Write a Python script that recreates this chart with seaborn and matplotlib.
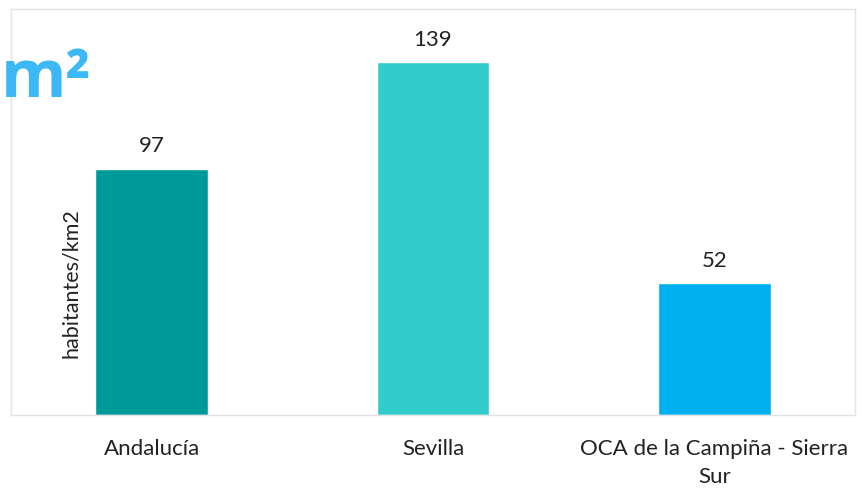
import matplotlib
matplotlib.use("Agg")
import matplotlib.pyplot as plt
import seaborn as sns
import pandas as pd

categories = ["Andalucía", "Sevilla", "OCA de la Campiña - Sierra\nSur"]
values = [97, 139, 52]
colors = ["#009999", "#33CCCC", "#00B0F0"]
ylabel = "habitantes/km2"
title_fragment = "m²"

sns.set_theme(style="white")
plt.rcParams["font.family"] = ["Lato", "DejaVu Sans"]

df = pd.DataFrame({"cat": categories, "val": values})

fig = plt.figure(figsize=(8.64, 4.90), dpi=100)
W, H = 864, 490
ax = fig.add_axes([11 / W, 1 - 415 / H, (855 - 11) / W, (415 - 9) / H])

sns.barplot(data=df, x="cat", y="val", hue="cat", palette=colors,
            width=0.40, legend=False, ax=ax, saturation=1)

ax.set_ylim(0, 160)
ax.set_xlim(-0.5, 2.5)
ax.set_yticks([])
ax.set_xlabel("")
ax.set_ylabel("")
for s in ax.spines.values():
    s.set_color("#e3e3e3")
    s.set_linewidth(1.0)

ax.tick_params(axis="x", length=0, pad=17, labelsize=16, labelcolor="#222222")
for lab in ax.get_xticklabels():
    lab.set_linespacing(1.5)
for c in ax.containers:
    ax.bar_label(c, padding=9, fontsize=16, color="#222222")

ax.text(60 / 844, (415 - 283) / 406, ylabel, transform=ax.transAxes, rotation=90,
        ha="center", va="center", fontsize=15.5, color="#222222")

fig.text(1 / W, 1 - 97 / H, title_fragment, ha="left", va="baseline",
         fontsize=48, fontweight="bold", color="#3BB8F5",
         family=["Open Sans", "DejaVu Sans"])

fig.savefig("out.png", dpi=100, facecolor="white")
